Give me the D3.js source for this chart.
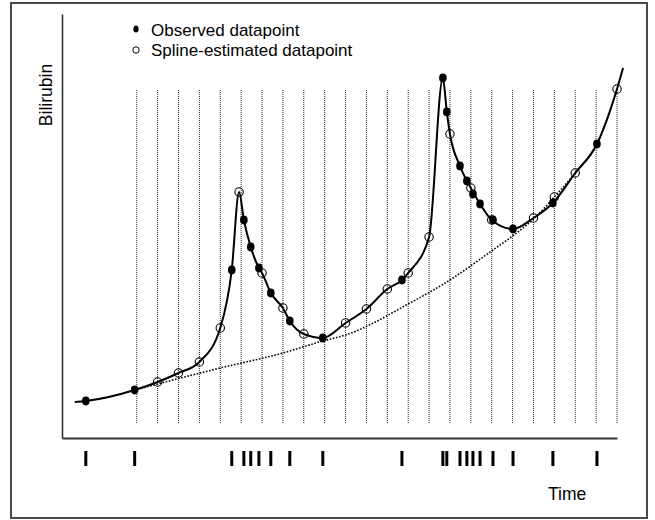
<!DOCTYPE html>
<html>
<head>
<meta charset="utf-8">
<script src="https://cdn.jsdelivr.net/npm/d3@7/dist/d3.min.js"></script>
<style>
  body { margin: 0; background: #fff; }
  svg { display: block; font-family: "Liberation Sans", Arial, Helvetica, sans-serif; }
</style>
</head>
<body>
<svg id="chart" width="655" height="520"></svg>
<script>
// observed measurements (time, bilirubin)
var obsTime = [-1.44, 0.90, 5.55, 6.13, 6.46, 6.85, 7.42, 8.33, 9.91, 13.70,
               15.66, 15.85, 16.48, 16.81, 17.10, 17.44, 18.06, 19.02, 20.93, 23.04];
var obsValue = [9.25, 12, 42, 54.5, 47.75, 42.5, 36.25, 29.25, 25, 39.5,
                90, 81.5, 68, 64.25, 61, 58.5, 54.5, 52.25, 58.75, 73.5];

// spline estimates on the regular grid
var estTime = [2, 3, 4, 5, 5.9, 7, 8, 9, 11, 12, 13, 14, 15, 16, 17, 18, 20, 21, 22, 24];
var estValue = [14, 16.25, 19, 27.5, 61.5, 41.25, 32.5, 26, 28.75, 32.25,
                37.25, 41.25, 50.25, 76, 62.5, 54.5, 55, 60.25, 66.25, 87.25];

// ends of the fitted curve
var curveEnds = [[-1.97, 9], [24.29, 92.5]];

// dotted underlying trend
var trendTime = [0.90, 5, 8, 9.91, 11, 14, 16, 18.06, 19, 20, 21, 22, 23.04, 24];
var trendValue = [12, 17.5, 21.25, 24.25, 25.75, 33.5, 39.5, 47, 50.5, 54.75, 60.25, 66.25, 73.5, 87.25];

// regular grid times
var gridTime = d3.range(1, 25);

var svg = d3.select('#chart');

var x = d3.scaleLinear().domain([-2.58, 24]).range([62, 617]);
var y = d3.scaleLinear().domain([0, 106]).range([438, 14]);

// outer frame
svg.append('rect')
  .attr('x', 11).attr('y', 3)
  .attr('width', 636).attr('height', 515)
  .attr('fill', 'none')
  .attr('stroke', '#4a4a4a')
  .attr('stroke-width', 2);

// dotted vertical grid
svg.append('g').selectAll('line')
  .data(gridTime)
  .enter().append('line')
  .attr('x1', function(d){ return x(d); })
  .attr('x2', function(d){ return x(d); })
  .attr('y1', y(87))
  .attr('y2', y(3.75))
  .attr('stroke', '#222')
  .attr('stroke-width', 1)
  .attr('stroke-dasharray', '1,1');

// axes (no ticks, just the lines)
svg.append('g')
  .attr('transform', 'translate(0,' + y(0) + ')')
  .call(d3.axisBottom(x).tickValues([]).tickSizeOuter(0))
  .select('.domain')
  .attr('stroke', '#333')
  .attr('stroke-width', 2);

svg.append('g')
  .attr('transform', 'translate(' + x(-2.58) + ',0)')
  .call(d3.axisLeft(y).tickValues([]).tickSizeOuter(0))
  .select('.domain')
  .attr('stroke', '#333')
  .attr('stroke-width', 1.6);

// trend line
var trend = trendTime.map(function(t, i){ return [t, trendValue[i]]; });
var lineGen = d3.line()
  .x(function(d){ return x(d[0]); })
  .y(function(d){ return y(d[1]); })
  .curve(d3.curveMonotoneX);

svg.append('path')
  .datum(trend)
  .attr('d', lineGen)
  .attr('fill', 'none')
  .attr('stroke', '#000')
  .attr('stroke-width', 1.6)
  .attr('stroke-dasharray', '1.6,1.6');

// spline through all points
var knots = [];
obsTime.forEach(function(t, i){ knots.push([t, obsValue[i]]); });
estTime.forEach(function(t, i){ knots.push([t, estValue[i]]); });
curveEnds.forEach(function(p){ knots.push(p); });
knots.sort(function(a, b){ return a[0] - b[0]; });
var spline = [];
knots.forEach(function(p){
  if (spline.length && p[0] - spline[spline.length - 1][0] < 0.12) return;
  spline.push(p);
});

svg.append('path')
  .datum(spline)
  .attr('d', lineGen)
  .attr('fill', 'none')
  .attr('stroke', '#000')
  .attr('stroke-width', 2);

// estimated points
svg.append('g').selectAll('circle')
  .data(estTime)
  .enter().append('circle')
  .attr('cx', function(d){ return x(d); })
  .attr('cy', function(d, i){ return y(estValue[i]); })
  .attr('r', 4.2)
  .attr('fill', 'none')
  .attr('stroke', '#000')
  .attr('stroke-width', 1.1);

// observed points
svg.append('g').selectAll('ellipse')
  .data(obsTime)
  .enter().append('ellipse')
  .attr('cx', function(d){ return x(d); })
  .attr('cy', function(d, i){ return y(obsValue[i]); })
  .attr('rx', 3.8)
  .attr('ry', 4.4)
  .attr('fill', '#000');

// rug of observation times
svg.append('g').selectAll('line')
  .data(obsTime)
  .enter().append('line')
  .attr('x1', function(d){ return x(d); })
  .attr('x2', function(d){ return x(d); })
  .attr('y1', y(0) + 13)
  .attr('y2', y(0) + 28)
  .attr('stroke', '#000')
  .attr('stroke-width', 3);

// legend
svg.append('ellipse')
  .attr('cx', 136).attr('cy', 29)
  .attr('rx', 2.6).attr('ry', 3.6)
  .attr('fill', '#000');
svg.append('circle')
  .attr('cx', 136).attr('cy', 50)
  .attr('r', 3.2)
  .attr('fill', 'none')
  .attr('stroke', '#000')
  .attr('stroke-width', 1);
svg.append('text')
  .attr('x', 151).attr('y', 35.5)
  .attr('font-size', 17)
  .text('Observed datapoint');
svg.append('text')
  .attr('x', 151).attr('y', 56)
  .attr('font-size', 17)
  .text('Spline-estimated datapoint');

// axis titles
svg.append('text')
  .attr('transform', 'translate(52,95) rotate(-90)')
  .attr('text-anchor', 'middle')
  .attr('font-size', 17.5)
  .text('Bilirubin');
svg.append('text')
  .attr('x', 548).attr('y', 500)
  .attr('font-size', 17.5)
  .text('Time');
</script>
</body>
</html>
